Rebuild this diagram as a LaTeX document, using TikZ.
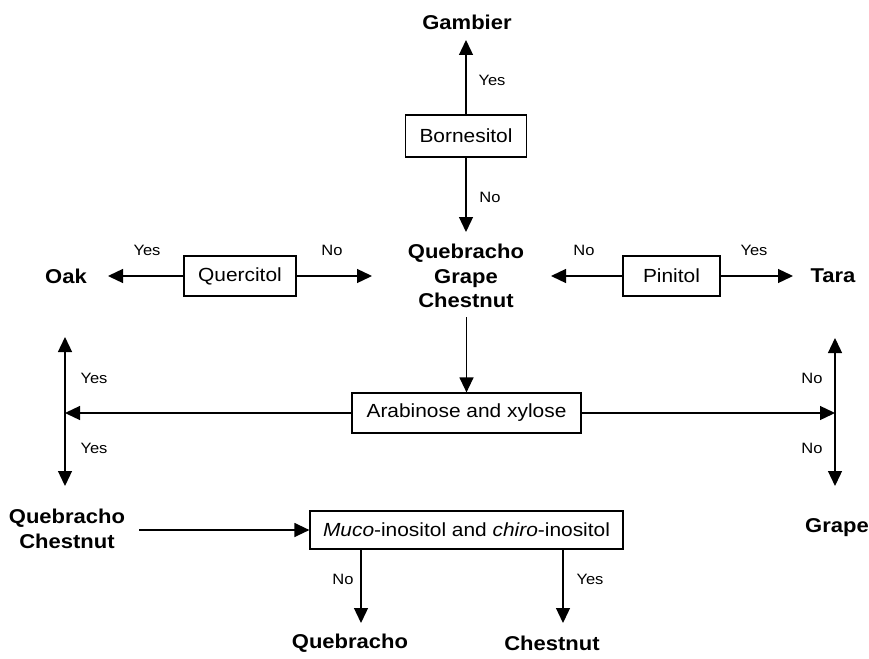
\documentclass[tikz,border=0pt]{standalone}
\usepackage{fontspec}
\setmainfont{Liberation Sans}[FakeStretch=1.1]
\usetikzlibrary{arrows.meta}
\begin{document}
\begin{tikzpicture}[x=1pt,y=-1pt,
  box/.style={draw,line width=1.2pt,minimum height=40pt,inner sep=0pt,font=\fontsize{19}{22}\selectfont},
  outc/.style={font=\bfseries\fontsize{20}{24.5}\selectfont,align=center,inner sep=0pt},
  lab/.style={font=\fontsize{15}{18}\selectfont,inner sep=0pt},
  arr/.style={line width=1.3pt,-{Triangle[width=14pt,length=15pt]}}]
\useasboundingbox (0,0) rectangle (869,658);
% boxes
\node[box,minimum width=121pt,minimum height=42pt] (born) at (466,136) {Bornesitol};
\node[box,minimum width=112pt] (querc) at (240,276) {Quercitol};
\node[box,minimum width=97pt] (pinit) at (671.5,276) {Pinitol};
\node[box,minimum width=229pt] (arab) at (466.5,413) {Arabinose and xylose};
\node[box,minimum width=313pt,minimum height=38pt] (muco) at (466.5,530) {\textit{Muco}-inositol and \textit{chiro}-inositol};
% outcomes
\node[outc] (gamb) at (467,22) {Gambier};
\node[outc] (qgc) at (466,276) {Quebracho\\Grape\\Chestnut};
\node[outc] (oak) at (66,276) {Oak};
\node[outc] (tara) at (833,276) {Tara};
\node[outc] (qc) at (67,529) {Quebracho\\Chestnut};
\node[outc] (grape) at (837,528) {Grape};
\node[outc] (queb) at (350,643) {Quebracho};
\node[outc] (chest) at (552,643) {Chestnut};
% coordinates
\coordinate (gT) at (466,40);
\coordinate (qT) at (466,232);
\coordinate (oT) at (108,276);
\coordinate (qR) at (372,276);
\coordinate (qL) at (551,276);
\coordinate (tT) at (793,276);
\coordinate (qB) at (466.5,317);
\coordinate (lJ) at (65,413);
\coordinate (lU) at (65,337);
\coordinate (lD) at (65,486);
\coordinate (rJ) at (835,413);
\coordinate (rU) at (835,338);
\coordinate (rD) at (835,486);
\coordinate (qcR) at (139,530);
\coordinate (nS) at (361,549);
\coordinate (nT) at (361,623);
\coordinate (yS) at (563,549);
\coordinate (yT) at (563,623);
% connectors
\draw[arr] (born.north) -- (gT);
\draw[arr] (born.south) -- (qT);
\draw[arr] (querc.west) -- (oT);
\draw[arr] (querc.east) -- (qR);
\draw[arr] (pinit.west) -- (qL);
\draw[arr] (pinit.east) -- (tT);
\draw[arr] (qB) -- (arab.north);
\draw[arr] (arab.west) -- (lJ);
\draw[arr] (lJ) -- (lU);
\draw[arr] (lJ) -- (lD);
\draw[arr] (arab.east) -- (rJ);
\draw[arr] (rJ) -- (rU);
\draw[arr] (rJ) -- (rD);
\draw[arr] (qcR) -- (muco.west);
\draw[arr] (nS) -- (nT);
\draw[arr] (yS) -- (yT);
% labels
\node[lab] (l1) at (492,80) {Yes};
\node[lab] (l2) at (490,197) {No};
\node[lab] (l3) at (147,250) {Yes};
\node[lab] (l4) at (332,250) {No};
\node[lab] (l5) at (584,250) {No};
\node[lab] (l6) at (754,250) {Yes};
\node[lab] (l7) at (94,378) {Yes};
\node[lab] (l8) at (94,448) {Yes};
\node[lab] (l9) at (812,378) {No};
\node[lab] (l10) at (812,448) {No};
\node[lab] (l11) at (343,579) {No};
\node[lab] (l12) at (590,579) {Yes};
\end{tikzpicture}
\end{document}
